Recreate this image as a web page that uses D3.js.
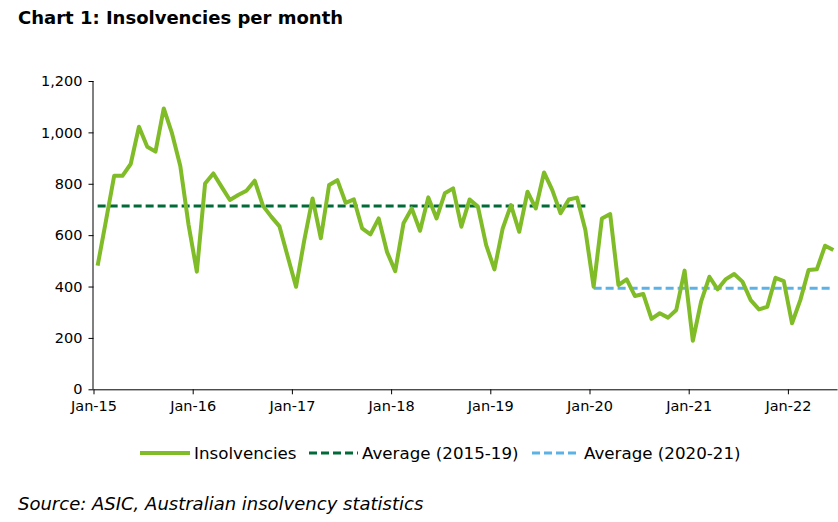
<!DOCTYPE html>
<html>
<head>
<meta charset="utf-8">
<script src="https://cdn.jsdelivr.net/npm/d3@7"></script>
<style>
  html, body { margin: 0; padding: 0; background: #fff; }
  svg { display: block; }
  text { font-family: "DejaVu Sans", Verdana, sans-serif; }
</style>
</head>
<body>
<svg id="chart" width="838" height="522"></svg>
<script>
// ---- Data (monthly, Jan-15 .. Jun-22) ----
const startYear = 2015;
const insolvencies = [
  481, 655, 831, 831, 877, 1022, 944, 925, 1093, 996, 869, 640,
  458, 801, 840, 788, 737, 756, 773, 812, 714, 672, 634, 516,
  399, 581, 743, 588, 795, 814, 726, 739, 626, 603, 665, 535,
  460, 646, 704, 617, 747, 665, 763, 782, 633, 739, 711, 561,
  467, 626, 717, 613, 769, 704, 844, 775, 685, 739, 746, 620,
  399, 665, 682, 406, 428, 363, 371, 274, 296, 279, 309, 462,
  189, 341, 438, 389, 429, 449, 419, 347, 311, 321, 434, 421,
  257, 347, 464, 467, 559, 542
];
const average2015_19 = 713;   // applies Jan-15 .. Dec-19
const average2020_21 = 393;   // applies Jan-20 .. end
const yTicks = [0, 200, 400, 600, 800, 1000, 1200];
const xTickLabels = ["Jan-15", "Jan-16", "Jan-17", "Jan-18", "Jan-19", "Jan-20", "Jan-21", "Jan-22"];
const seriesNames = ["Insolvencies", "Average (2015-19)", "Average (2020-21)"];

// ---- Layout ----
const svg = d3.select("#chart");
const mLeft = 93.5, mRight = 837.5, mTop = 81, mBottom = 389.3;
const n = insolvencies.length;

const x = d3.scaleLinear().domain([0, n]).range([mLeft, mRight]);   // category edges
const cx = i => x(i + 0.5);                                          // category centre
const y = d3.scaleLinear().domain([0, 1200]).range([mBottom, mTop]);

const colors = { ins: "#80bc27", avg1: "#006a39", avg2: "#5cb2e6" };

// Title
svg.append("text").attr("x", 18).attr("y", 24)
  .attr("font-weight", "bold").attr("font-size", 18).attr("fill", "#000")
  .text("Chart 1: Insolvencies per month");

// Y axis
const yAxis = d3.axisLeft(y).tickValues(yTicks).tickSize(5).tickPadding(6)
  .tickFormat(d3.format(","));
const gy = svg.append("g").attr("transform", `translate(${mLeft},0)`).call(yAxis);
gy.selectAll("text").attr("font-size", 14.5).attr("fill", "#000")
  .style("font-family", '"DejaVu Sans", Verdana, sans-serif');
gy.selectAll("line, path").attr("stroke", "#000").attr("stroke-width", 1);
gy.select(".domain").attr("d", `M-0.5,${mTop}V${mBottom}`);

// X axis (ticks at January boundaries)
const xTickIdx = xTickLabels.map((d, k) => k * 12);
const xAxis = d3.axisBottom(x).tickValues(xTickIdx).tickSize(5).tickPadding(6)
  .tickFormat((d, k) => xTickLabels[k]);
const gx = svg.append("g").attr("transform", `translate(0,${mBottom})`).call(xAxis);
gx.selectAll("text").attr("font-size", 14.5).attr("fill", "#000")
  .style("font-family", '"DejaVu Sans", Verdana, sans-serif');
gx.selectAll("line, path").attr("stroke", "#000").attr("stroke-width", 1);
gx.select(".domain").attr("d", `M${mLeft},0.5H${mRight}`);

// Average lines
const avg1Data = insolvencies.map((v, i) => i < 60 ? average2015_19 : null);
const avg2Data = insolvencies.map((v, i) => i >= 60 ? average2020_21 : null);
const lineGen = d3.line().defined(d => d[1] != null).x(d => cx(d[0])).y(d => y(d[1]));

svg.append("path").datum(avg1Data.map((v, i) => [i, v]))
  .attr("d", lineGen).attr("fill", "none")
  .attr("stroke", colors.avg1).attr("stroke-width", 3).attr("stroke-dasharray", "8,4");
svg.append("path").datum(avg2Data.map((v, i) => [i, v]))
  .attr("d", lineGen).attr("fill", "none")
  .attr("stroke", colors.avg2).attr("stroke-width", 3).attr("stroke-dasharray", "8,4");

// Insolvencies line
svg.append("path").datum(insolvencies.map((v, i) => [i, v]))
  .attr("d", lineGen).attr("fill", "none")
  .attr("stroke", colors.ins).attr("stroke-width", 4)
  .attr("stroke-linejoin", "round");

// Legend
const legY = 453;
const legend = [
  { name: seriesNames[0], color: colors.ins, dash: null, w: 4, x0: 140, x1: 190, tx: 194 },
  { name: seriesNames[1], color: colors.avg1, dash: "8,4", w: 3, x0: 309, x1: 358, tx: 362 },
  { name: seriesNames[2], color: colors.avg2, dash: "8,4", w: 3, x0: 532, x1: 580, tx: 584 }
];
legend.forEach(l => {
  svg.append("line").attr("x1", l.x0).attr("x2", l.x1).attr("y1", legY).attr("y2", legY)
    .attr("stroke", l.color).attr("stroke-width", l.w).attr("stroke-dasharray", l.dash);
  svg.append("text").attr("x", l.tx).attr("y", legY + 6)
    .attr("font-size", 16.7).attr("fill", "#000").text(l.name);
});

// Source
svg.append("text").attr("x", 18).attr("y", 510)
  .attr("font-style", "italic").attr("font-size", 18).attr("fill", "#000")
  .text("Source: ASIC, Australian insolvency statistics");
</script>
</body>
</html>
